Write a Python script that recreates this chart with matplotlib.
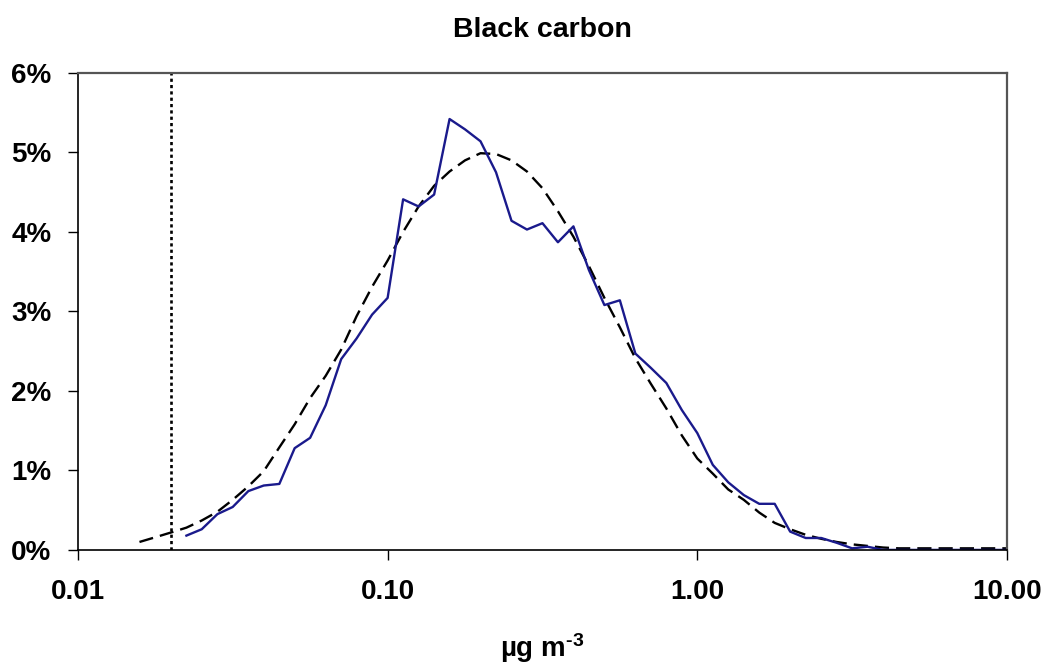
import matplotlib.pyplot as plt
from matplotlib.ticker import FixedLocator, NullLocator

plt.rcParams['font.family'] = ['Liberation Sans', 'DejaVu Sans']
plt.rcParams['font.weight'] = 'bold'
plt.rcParams['axes.unicode_minus'] = False
plt.rcParams['mathtext.fontset'] = 'custom'
plt.rcParams['mathtext.rm'] = 'Liberation Sans:bold'
plt.rcParams['mathtext.it'] = 'Liberation Sans:bold'
plt.rcParams['mathtext.bf'] = 'Liberation Sans:bold'

# Measured distribution (bin centres, ug m-3) and frequency (%)
conc = [0.0224, 0.0251, 0.0282, 0.0316, 0.0355, 0.0398, 0.0447, 0.0501,
        0.0562, 0.0631, 0.0708, 0.0794, 0.0891, 0.1000, 0.1122, 0.1259,
        0.1413, 0.1585, 0.1778, 0.1995, 0.2239, 0.2512, 0.2818, 0.3162,
        0.3548, 0.3981, 0.4467, 0.5012, 0.5623, 0.6310, 0.7079, 0.7943,
        0.8913, 1.000, 1.122, 1.259, 1.413, 1.585, 1.778, 1.995, 2.239,
        2.512, 2.818, 3.162, 3.548, 3.981, 4.467, 5.012, 5.623, 6.310,
        7.079, 7.943, 8.913, 10.0]
freq = [0.18, 0.26, 0.45, 0.54, 0.74, 0.81, 0.83, 1.28, 1.41, 1.82, 2.40,
        2.66, 2.96, 3.17, 4.41, 4.32, 4.47, 5.42, 5.29, 5.14, 4.75, 4.14,
        4.03, 4.11, 3.87, 4.07, 3.52, 3.08, 3.14, 2.47, 2.29, 2.10, 1.76,
        1.47, 1.07, 0.85, 0.69, 0.58, 0.58, 0.23, 0.15, 0.15, 0.09, 0.02,
        0.04, 0.0, 0.0, 0.0, 0.0, 0.0, 0.0, 0.0, 0.0, 0.0]

# Lognormal fit
fit_conc = [0.0158, 0.0178, 0.0200] + conc
fit_freq = [0.10, 0.16, 0.22, 0.28, 0.37, 0.48, 0.63, 0.80, 0.99, 1.29,
            1.58, 1.91, 2.19, 2.52, 2.94, 3.31, 3.64, 4.00, 4.32, 4.58,
            4.76, 4.90, 4.99, 4.98, 4.90, 4.76, 4.55, 4.26, 3.94, 3.57,
            3.17, 2.80, 2.41, 2.09, 1.78, 1.44, 1.15, 0.96, 0.76, 0.63,
            0.47, 0.34, 0.26, 0.19, 0.14, 0.10, 0.07, 0.05, 0.03, 0.02,
            0.02, 0.02, 0.02, 0.02, 0.02, 0.02, 0.02]

detection_limit = 0.02

x_ticks = [0.01, 0.1, 1, 10]
x_labels = ['0.01', '0.10', '1.00', '10.00']
y_ticks = [0, 1, 2, 3, 4, 5, 6]
y_labels = ['0%', '1%', '2%', '3%', '4%', '5%', '6%']

fig = plt.figure(figsize=(10.45, 6.69), dpi=100)
ax = fig.add_axes([0.0746, 0.178, 0.889, 0.713])

ax.plot(fit_conc, fit_freq, color='black', linestyle=(0, (6, 3)), lw=1.7)
ax.plot(conc, freq, color='#1a1a8c', lw=1.7)
ax.axvline(detection_limit, color='black', linestyle=(0, (1.2, 1.2)), lw=1.9)

ax.set_xscale('log')
ax.set_xlim(0.01, 10)
ax.set_ylim(0, 6)
ax.xaxis.set_major_locator(FixedLocator(x_ticks))
ax.xaxis.set_minor_locator(NullLocator())
ax.set_xticklabels(x_labels)
ax.set_yticks(y_ticks)
ax.set_yticklabels(y_labels)

ax.tick_params(axis='both', labelsize=20, width=1, length=7, direction='out')
ax.tick_params(axis='x', pad=14)
ax.tick_params(axis='y', pad=12)
for side in ['top', 'right']:
    ax.spines[side].set_color('#555555')
    ax.spines[side].set_linewidth(1.6)
for side in ['left', 'bottom']:
    ax.spines[side].set_linewidth(1.2)

ax.set_title('Black carbon', fontsize=20.5, fontweight='bold', pad=26)
ax.set_xlabel('µg m$^{\\text{-3}}$', fontsize=20, fontweight='bold', labelpad=19)

plt.savefig('out.png', dpi=100)
